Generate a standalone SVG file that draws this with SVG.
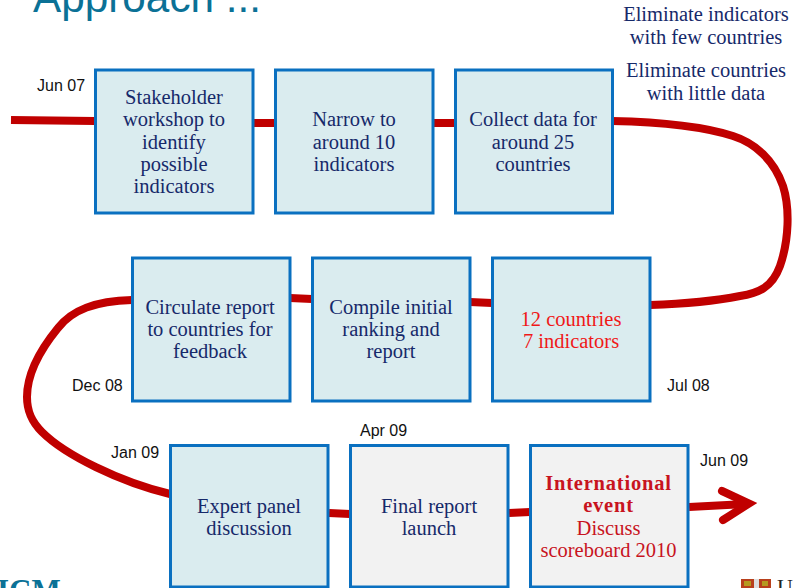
<svg xmlns="http://www.w3.org/2000/svg" width="793" height="588" viewBox="0 0 793 588">
<style>
.box{stroke:#0a70c0;stroke-width:3;fill:#daecef}
.grey{fill:#f2f2f2}
.t{font-family:"Liberation Serif",serif;font-size:20.5px;fill:#16296a;text-anchor:middle}
.r{fill:#f01818}
.d{font-family:"Liberation Sans",sans-serif;font-size:16px;fill:#111}
.c{fill:none;stroke:#c00000;stroke-width:8}
</style>
<rect width="793" height="588" fill="#fff"/>
<text id="title" x="33" y="12" font-family="Liberation Sans,sans-serif" font-size="42.300" fill="#0b7196">Approach ...</text>
<g id="connectors">
<path class="c" d="M11 120L95 121M252 123L275 123M433 123L455 123M612 121C660 122 705 127 733 136C755 143 774 160 783 186C790 208 789 240 780 266C772 288 758 293 740 296C715 301 680 304 650 305M492 303L470 302M312 299L290 298M132 300C95 301 72 310 58 328C40 350 27 375 27 397C27 412 32 422 42 432C65 455 120 482 170 494M329 513L350 514M509 513L530 512"/>
<path class="c" d="M689 507L746 504" stroke-width="9.500"/>
<path class="c" d="M722 491L749 503.500L723 520" stroke-width="10.500" stroke-linecap="round"/>
</g>
<g id="n1"><rect class="box" x="95.500" y="70" width="157.500" height="143"/><text class="t"><tspan x="174" y="104">Stakeholder</tspan><tspan x="174" y="126">workshop to</tspan><tspan x="174" y="149">identify</tspan><tspan x="174" y="171">possible</tspan><tspan x="174" y="193">indicators</tspan></text></g>
<g id="n2"><rect class="box" x="275.500" y="70" width="157.500" height="143"/><text class="t"><tspan x="354" y="126">Narrow to</tspan><tspan x="354" y="149">around 10</tspan><tspan x="354" y="171">indicators</tspan></text></g>
<g id="n3"><rect class="box" x="455.500" y="70" width="157" height="143"/><text class="t"><tspan x="533" y="126">Collect data for</tspan><tspan x="533" y="149">around 25</tspan><tspan x="533" y="171">countries</tspan></text></g>
<g id="n4"><rect class="box" x="132.500" y="258" width="157.500" height="143"/><text class="t"><tspan x="210" y="314">Circulate report</tspan><tspan x="210" y="336">to countries for</tspan><tspan x="210" y="358">feedback</tspan></text></g>
<g id="n5"><rect class="box" x="312.500" y="258" width="157.500" height="143"/><text class="t"><tspan x="391" y="314">Compile initial</tspan><tspan x="391" y="336">ranking and</tspan><tspan x="391" y="358">report</tspan></text></g>
<g id="n6"><rect class="box" x="492.500" y="258" width="157.500" height="143"/><text class="t r"><tspan x="571" y="326">12 countries</tspan><tspan x="571" y="348">7 indicators</tspan></text></g>
<g id="n7"><rect class="box" x="170.500" y="445.500" width="157.500" height="141.500"/><text class="t"><tspan x="249" y="513">Expert panel</tspan><tspan x="249" y="535">discussion</tspan></text></g>
<g id="n8"><rect class="box grey" x="350.500" y="445.500" width="157.500" height="141.500"/><text class="t"><tspan x="429" y="513">Final report</tspan><tspan x="429" y="535">launch</tspan></text></g>
<g id="n9"><rect class="box grey" x="530.500" y="445.500" width="157.500" height="141.500"/><text class="t" style="fill:#c8141e"><tspan x="608.500" y="490" font-weight="bold" letter-spacing=".8">International</tspan><tspan x="608.500" y="512" font-weight="bold" letter-spacing=".8">event</tspan><tspan x="608.500" y="535">Discuss</tspan><tspan x="608.500" y="557">scoreboard 2010</tspan></text></g>
<g id="labels">
<text class="d" x="37" y="91">Jun 07</text>
<text class="d" x="72" y="391">Dec 08</text>
<text class="d" x="667" y="391">Jul 08</text>
<text class="d" x="111" y="458">Jan 09</text>
<text class="d" x="360" y="436">Apr 09</text>
<text class="d" x="700" y="466">Jun 09</text>
<text class="t"><tspan x="706" y="21">Eliminate indicators</tspan><tspan x="706" y="44">with few countries</tspan><tspan x="706" y="77">Eliminate countries</tspan><tspan x="706" y="100">with little data</tspan></text>
</g>
<text x="-3" y="601" font-family="Liberation Serif,serif" font-size="31" font-weight="bold" fill="#0b7196">ICM</text>
<g id="crest"><rect x="741" y="579" width="13" height="9" fill="#b8401c"/><rect x="759" y="579" width="12" height="9" fill="#b8401c"/><rect x="744" y="581" width="7" height="5" fill="#b59a20"/><rect x="762" y="581" width="6" height="5" fill="#b59a20"/><rect x="754" y="579" width="5" height="9" fill="#ddd"/></g>
<text x="777" y="594" font-family="Liberation Serif,serif" font-size="22" fill="#222">UI</text>
</svg>
